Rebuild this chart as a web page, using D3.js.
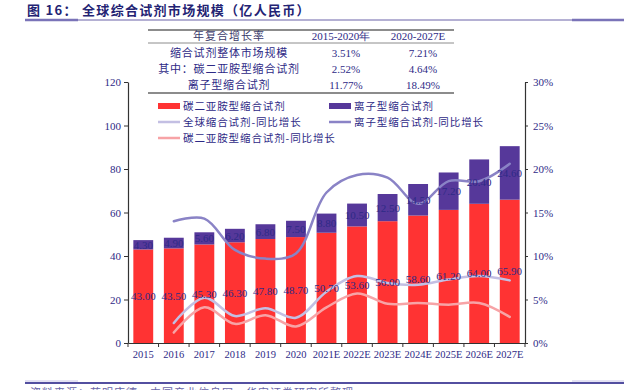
<!DOCTYPE html>
<html>
<head>
<meta charset="utf-8">
<script src="https://cdn.jsdelivr.net/npm/d3@7"></script>
<style>
  body { margin: 0; background: #fff; }
  svg { display: block; }
</style>
</head>
<body>
<div id="chart"></div>
<script>
var years = ["2015", "2016", "2017", "2018", "2019", "2020", "2021E", "2022E", "2023E", "2024E", "2025E", "2026E", "2027E"];
var carboValues = [43.0, 43.5, 45.3, 46.3, 47.8, 48.7, 50.7, 53.6, 56.0, 58.6, 61.2, 64.0, 65.9];
var ionValues = [4.3, 4.9, 5.6, 6.2, 6.8, 7.5, 8.8, 10.5, 12.5, 14.5, 17.2, 20.4, 24.6];
// growth, %
var totalGrowth = [null, 2.3, 5.2, 3.1, 4.0, 2.9, 5.9, 7.7, 6.9, 6.7, 7.3, 7.7, 7.2];
var ionGrowth = [null, 14.0, 14.3, 10.7, 9.7, 10.3, 17.3, 19.3, 19.0, 16.0, 18.6, 18.6, 20.6];
var carboGrowth = [null, 1.2, 4.1, 2.2, 3.2, 1.9, 4.1, 5.7, 4.5, 4.6, 4.4, 4.6, 3.0];
var leftTicks = [0, 20, 40, 60, 80, 100, 120];
var rightTicks = [0, 5, 10, 15, 20, 25, 30];

var tableHeader = ["年复合增长率", "2015-2020年", "2020-2027E"];
var tableRows = [
	["缩合试剂整体市场规模", "3.51%", "7.21%"],
	["其中：碳二亚胺型缩合试剂", "2.52%", "4.64%"],
	["离子型缩合试剂", "11.77%", "18.49%"]
];

var W = 624, H = 390;
var navy = "#2e2a86";
var serif = "'Liberation Serif', 'Times New Roman', serif";
var cjk = "'Noto Sans CJK SC', sans-serif";

var svg = d3.select("#chart").append("svg")
	.attr("width", W)
	.attr("height", H);

// title
svg.append("text")
	.attr("x", 27)
	.attr("y", 15)
	.attr("font-family", cjk)
	.attr("font-size", 13)
	.attr("font-weight", "bold")
	.attr("letter-spacing", 1.3)
	.attr("fill", "#232373")
	.text("图 16： 全球综合试剂市场规模（亿人民币）");
svg.append("line").attr("x1", 25).attr("x2", W).attr("y1", 20).attr("y2", 20)
	.attr("stroke", "#6a63a8").attr("stroke-width", 1);
svg.append("line").attr("x1", 25).attr("x2", 78).attr("y1", 20).attr("y2", 20)
	.attr("stroke", "#7a73b8").attr("stroke-width", 2.5);
svg.append("line").attr("x1", 572).attr("x2", W).attr("y1", 20).attr("y2", 20)
	.attr("stroke", "#7a73b8").attr("stroke-width", 2.5);

// footer line + source text (cut by the frame, as in the original)
svg.append("line").attr("x1", 25).attr("x2", W).attr("y1", 383).attr("y2", 383)
	.attr("stroke", "#1a1580").attr("stroke-width", 1.5);
svg.append("line").attr("x1", 25).attr("x2", 78).attr("y1", 381).attr("y2", 381)
	.attr("stroke", "#c8c4e8").attr("stroke-width", 1);
svg.append("line").attr("x1", 572).attr("x2", W).attr("y1", 381).attr("y2", 381)
	.attr("stroke", "#c8c4e8").attr("stroke-width", 1);
svg.append("text")
	.attr("x", 30).attr("y", 397)
	.attr("font-family", cjk).attr("font-size", 11).attr("fill", "#6a66a8")
	.attr("letter-spacing", 1)
	.text("资料来源：药明康德，中国产业信息网，华安证券研究所整理");

// scales
var x = d3.scaleBand().domain(years).range([128, 525]).paddingInner(0.35).paddingOuter(0.175);
var yL = d3.scaleLinear().domain([0, 120]).range([343, 82]);
var yR = d3.scaleLinear().domain([0, 30]).range([343, 82]);

// bars
var bars = svg.append("g");
bars.selectAll(".carbo")
	.data(years)
	.enter()
	.append("rect")
	.attr("x", function(d) { return x(d); })
	.attr("width", x.bandwidth())
	.attr("y", function(d, i) { return yL(carboValues[i]); })
	.attr("height", function(d, i) { return yL(0) - yL(carboValues[i]); })
	.attr("fill", "#ff3333");
bars.selectAll(".ion")
	.data(years)
	.enter()
	.append("rect")
	.attr("x", function(d) { return x(d); })
	.attr("width", x.bandwidth())
	.attr("y", function(d, i) { return yL(carboValues[i] + ionValues[i]); })
	.attr("height", function(d, i) { return yL(carboValues[i]) - yL(carboValues[i] + ionValues[i]); })
	.attr("fill", "#56389a");

// growth lines, from 2016 on
function addGrowth(values, color) {
	var idx = [];
	values.forEach(function(v, i) { if (v != null) idx.push(i); });
	var l = d3.line()
		.x(function(i) { return x(years[i]) + x.bandwidth() / 2; })
		.y(function(i) { return yR(values[i]); })
		.curve(d3.curveCatmullRom.alpha(0.5));
	svg.append("path")
		.attr("d", l(idx))
		.attr("fill", "none")
		.attr("stroke", color)
		.attr("stroke-width", 2.5)
		.attr("stroke-linecap", "round");
}
addGrowth(carboGrowth, "#f7a3a6");
addGrowth(totalGrowth, "#c3bfe3");
addGrowth(ionGrowth, "#8a83c6");

// data labels
var labels = svg.append("g")
	.attr("font-family", serif)
	.attr("font-size", 11)
	.attr("fill", navy)
	.attr("text-anchor", "middle");
labels.selectAll(".lc")
	.data(years)
	.enter()
	.append("text")
	.attr("x", function(d) { return x(d) + x.bandwidth() / 2; })
	.attr("y", function(d, i) { return yL(carboValues[i] / 2) + 4; })
	.text(function(d, i) { return carboValues[i].toFixed(2); });
labels.selectAll(".li")
	.data(years)
	.enter()
	.append("text")
	.attr("x", function(d) { return x(d) + x.bandwidth() / 2; })
	.attr("y", function(d, i) { return yL(carboValues[i] + ionValues[i] / 2) + 4; })
	.text(function(d, i) { return ionValues[i].toFixed(2); });

// axes
function styleAxis(g) {
	g.selectAll("path").attr("stroke", "#333").attr("stroke-width", 1.2);
	g.selectAll("line").attr("stroke", "#333");
	g.selectAll("text").attr("fill", navy).attr("font-family", serif).attr("font-size", 11);
}
var gl = svg.append("g").attr("transform", "translate(128,0)")
	.call(d3.axisLeft(yL).tickValues(leftTicks).tickSize(4).tickSizeOuter(0).tickPadding(3));
styleAxis(gl);
var gr = svg.append("g").attr("transform", "translate(525,0)")
	.call(d3.axisRight(yR).tickValues(rightTicks).tickSize(3).tickSizeOuter(0).tickPadding(5)
		.tickFormat(function(d) { return d + "%"; }));
styleAxis(gr);
var gx = svg.append("g").attr("transform", "translate(0,343)")
	.call(d3.axisBottom(x).tickSize(0).tickSizeOuter(0).tickPadding(8));
styleAxis(gx);
gx.selectAll("text").attr("font-size", 10.5);
gx.selectAll(".bound")
	.data(d3.range(years.length + 1))
	.enter()
	.append("line")
	.attr("x1", function(i) { return 128 + i * x.step(); })
	.attr("x2", function(i) { return 128 + i * x.step(); })
	.attr("y1", 0)
	.attr("y2", 4)
	.attr("stroke", "#333");

// table
var tbl = svg.append("g").attr("font-size", 11);
var colX = [229, 341, 418];
tbl.append("line").attr("x1", 148).attr("x2", 454).attr("y1", 30).attr("y2", 30)
	.attr("stroke", "#8c8c8c").attr("stroke-width", 2);
tbl.append("line").attr("x1", 148).attr("x2", 454).attr("y1", 43).attr("y2", 43)
	.attr("stroke", "#8c8c8c").attr("stroke-width", 1);
tbl.append("line").attr("x1", 148).attr("x2", 454).attr("y1", 93).attr("y2", 93)
	.attr("stroke", "#8c8c8c").attr("stroke-width", 2);
tbl.selectAll(".th")
	.data(tableHeader)
	.enter()
	.append("text")
	.attr("x", function(d, i) { return colX[i]; })
	.attr("y", 40)
	.attr("text-anchor", "middle")
	.attr("font-family", function(d, i) { return i == 0 ? cjk : serif; })
	.attr("letter-spacing", function(d, i) { return i == 0 ? 1 : 0; })
	.attr("fill", function(d, i) { return i == 0 ? "#3c3c6c" : navy; })
	.text(function(d) { return d; });
var rowY = [57, 73, 89];
tableRows.forEach(function(row, r) {
	tbl.selectAll(".r" + r)
		.data(row)
		.enter()
		.append("text")
		.attr("x", function(d, i) { return i == 0 ? colX[0] : colX[i] + 5; })
		.attr("y", rowY[r])
		.attr("text-anchor", "middle")
		.attr("font-family", function(d, i) { return i == 0 ? cjk : serif; })
		.attr("letter-spacing", function(d, i) { return i == 0 ? 0.8 : 0; })
		.attr("fill", navy)
		.text(function(d) { return d; });
});

// legend
var legendItems = [
	{ label: "碳二亚胺型缩合试剂", color: "#ff3333", type: "rect", x: 158, y: 106 },
	{ label: "离子型缩合试剂", color: "#56389a", type: "rect", x: 329, y: 106 },
	{ label: "全球缩合试剂-同比增长", color: "#c3bfe3", type: "line", x: 158, y: 122 },
	{ label: "离子型缩合试剂-同比增长", color: "#8a83c6", type: "line", x: 329, y: 122 },
	{ label: "碳二亚胺型缩合试剂-同比增长", color: "#f7a3a6", type: "line", x: 158, y: 138 }
];
var lg = svg.append("g").selectAll("g")
	.data(legendItems)
	.enter()
	.append("g")
	.attr("transform", function(d) { return "translate(" + d.x + "," + d.y + ")"; });
lg.append("rect")
	.attr("x", 0)
	.attr("width", 22)
	.attr("y", function(d) { return d.type == "rect" ? -3 : -1.25; })
	.attr("height", function(d) { return d.type == "rect" ? 6 : 2.5; })
	.attr("fill", function(d) { return d.color; });
lg.append("text")
	.attr("x", 25)
	.attr("y", 4)
	.attr("font-family", cjk)
	.attr("font-size", 10.5)
	.attr("letter-spacing", 0.9)
	.attr("fill", navy)
	.text(function(d) { return d.label; });
</script>
</body>
</html>
